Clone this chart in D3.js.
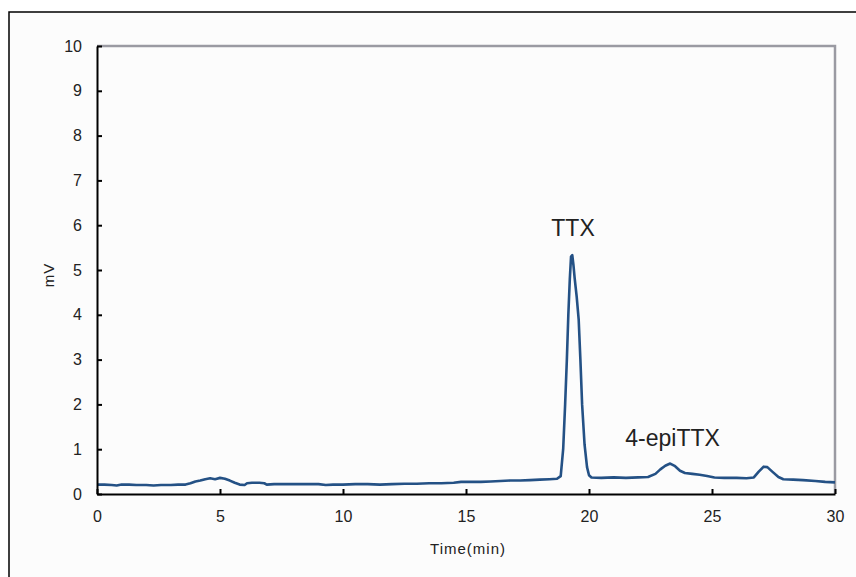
<!DOCTYPE html>
<html><head><meta charset="utf-8">
<script src="https://cdn.jsdelivr.net/npm/d3@7"></script>
<style>body{margin:0;background:#fff}svg{display:block}text{font-family:"Liberation Sans",Arial,sans-serif;fill:#222}</style>
</head><body><svg id="c" width="856" height="577"></svg>
<script>
const times = [0.0,0.3,0.6,0.8,1.0,1.3,1.6,2.0,2.3,2.6,3.0,3.3,3.6,3.8,4.0,4.2,4.4,4.6,4.8,5.0,5.2,5.4,5.6,5.8,6.0,6.1,6.3,6.6,6.8,6.9,7.2,7.6,8.0,8.5,9.0,9.3,9.6,10.0,10.5,11.0,11.5,12.0,12.5,13.0,13.5,14.0,14.5,14.8,15.2,15.6,16.0,16.4,16.8,17.2,17.6,18.0,18.4,18.7,18.85,18.95,19.03,19.1,19.16,19.22,19.27,19.32,19.37,19.42,19.5,19.58,19.65,19.72,19.82,19.92,20.0,20.1,20.5,21.0,21.5,22.0,22.4,22.7,22.9,23.1,23.3,23.5,23.7,23.9,24.2,24.5,24.8,25.1,25.5,26.0,26.4,26.7,26.9,27.1,27.25,27.45,27.7,27.9,28.3,28.7,29.2,29.6,30.0];
const signal = [0.21,0.21,0.20,0.19,0.21,0.21,0.20,0.20,0.19,0.20,0.20,0.21,0.21,0.24,0.28,0.30,0.33,0.35,0.33,0.36,0.34,0.30,0.25,0.21,0.20,0.24,0.25,0.25,0.24,0.21,0.22,0.22,0.22,0.22,0.22,0.20,0.21,0.21,0.22,0.22,0.21,0.22,0.23,0.23,0.24,0.24,0.25,0.27,0.27,0.27,0.28,0.29,0.30,0.30,0.31,0.32,0.33,0.34,0.40,1.0,2.0,3.0,4.0,4.8,5.3,5.33,5.1,4.8,4.4,3.9,3.0,2.0,1.1,0.6,0.42,0.37,0.36,0.37,0.36,0.37,0.38,0.45,0.55,0.63,0.68,0.62,0.52,0.47,0.45,0.43,0.40,0.37,0.36,0.36,0.35,0.37,0.50,0.61,0.60,0.50,0.38,0.33,0.32,0.31,0.29,0.27,0.26];
const xTicks = [0,5,10,15,20,25,30];
const yTicks = [0,1,2,3,4,5,6,7,8,9,10];
const peakLabels = ["TTX","4-epiTTX"];
const peakLabelTimes = [19.35, 23.4];
const peakLabelValues = [5.75, 1.08];

const svg = d3.select("#c");
const m = {l:97, t:46, r:835, b:494};
svg.append("rect").attr("x",9).attr("y",12).attr("width",860).attr("height",580)
  .attr("fill","#fcfcfc").attr("stroke","#000").attr("stroke-width",1.5);

const x = d3.scaleLinear().domain([0,30]).range([m.l,m.r]);
const y = d3.scaleLinear().domain([0,10]).range([m.b,m.t]);

svg.append("path").attr("d",`M${m.l},${m.t}H${m.r}V${m.b}`).attr("fill","none")
  .attr("stroke","#9a9aa2").attr("stroke-width",2.5);

const line = d3.line().x((d,i)=>x(times[i])).y(d=>y(d));
svg.append("path").datum(signal).attr("d",line).attr("fill","none")
  .attr("stroke","#245185").attr("stroke-width",2.6).attr("stroke-linejoin","round");

const xa = svg.append("g").attr("transform",`translate(0,${m.b})`)
  .call(d3.axisBottom(x).tickValues(xTicks).tickSizeInner(-5).tickSizeOuter(0).tickPadding(17));
const ya = svg.append("g").attr("transform",`translate(${m.l},0)`)
  .call(d3.axisLeft(y).tickValues(yTicks).tickSizeInner(-5).tickSizeOuter(0).tickPadding(15));
[xa,ya].forEach(a=>{
  a.select(".domain").attr("stroke","#000").attr("stroke-width",2);
  a.selectAll(".tick line").attr("stroke","#000").attr("stroke-width",2);
  a.selectAll(".tick text").attr("font-size",16).attr("font-family","Liberation Sans, Arial, sans-serif").attr("fill","#222");
});

peakLabels.forEach((t,i)=>{
  svg.append("text").attr("x",x(peakLabelTimes[i])).attr("y",y(peakLabelValues[i]))
    .attr("text-anchor","middle").attr("font-size",23).text(t);
});

svg.append("text").attr("x",468).attr("y",554).attr("text-anchor","middle").attr("font-size",15).attr("letter-spacing",1).text("Time(min)");
svg.append("text").attr("transform","translate(54,275) rotate(-90)").attr("text-anchor","middle").attr("font-size",15).attr("letter-spacing",1).text("mV");
</script></body></html>
